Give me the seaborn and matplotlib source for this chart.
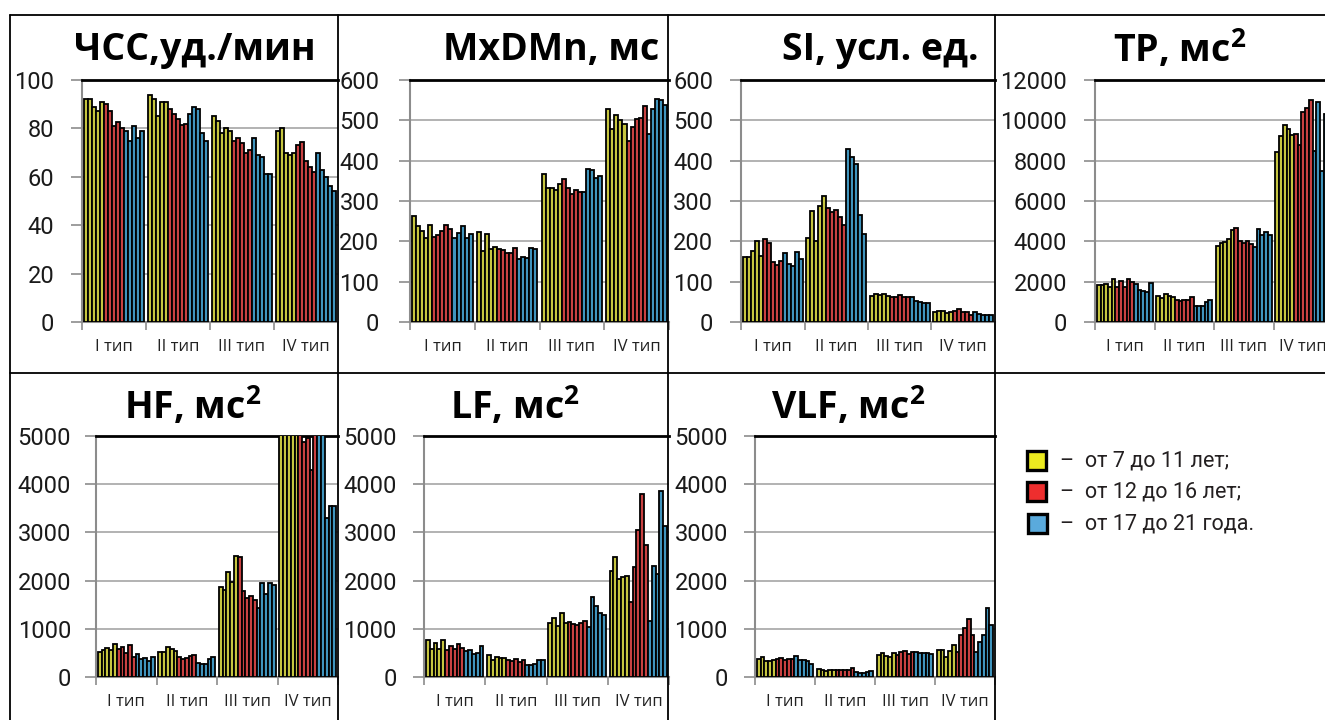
import numpy as np
import pandas as pd
import seaborn as sns
import matplotlib
matplotlib.use("Agg")
import matplotlib.pyplot as plt
from matplotlib.lines import Line2D
from matplotlib.patches import Rectangle

# ---- data: 4 types x 5 bars for each age band ----
type_labels = ["I тип", "II тип", "III тип", "IV тип"]
age_labels = ["–  от 7 до 11 лет;", "–  от 12 до 16 лет;", "–  от 17 до 21 года."]

hr_7_11 = [92, 92, 89, 87, 91, 94, 92, 85, 91, 91, 85, 83, 78, 80, 79, 79, 80, 70, 69, 70]
hr_12_16 = [90, 87, 81, 82.5, 80, 88, 86, 84, 81.5, 82, 75, 76, 74, 70, 71, 73, 74.5, 66.5, 64, 62]
hr_17_21 = [79, 75, 81, 76, 79, 86, 89, 88, 78, 75, 76, 69, 68, 61, 61, 70, 63, 60, 56, 54]

mxdmn_7_11 = [263, 238, 225, 208, 240, 222, 175, 217, 180, 186, 367, 333, 333, 327, 342, 528, 478, 513, 500, 490]
mxdmn_12_16 = [210, 215, 225, 240, 230, 180, 178, 170, 172, 183, 354, 333, 318, 328, 322, 448, 483, 503, 505, 535]
mxdmn_17_21 = [208, 220, 237, 208, 218, 155, 160, 158, 183, 182, 322, 380, 377, 358, 361, 465, 527, 553, 550, 538]

si_7_11 = [160, 160, 175, 200, 163, 208, 275, 200, 288, 312, 65, 70, 67, 70, 65, 25, 28, 27, 22, 25]
si_12_16 = [205, 197, 150, 142, 152, 283, 273, 278, 260, 240, 62, 63, 66, 62, 63, 28, 33, 25, 24, 17]
si_17_21 = [170, 145, 140, 173, 155, 430, 410, 392, 265, 218, 63, 52, 50, 48, 48, 25, 20, 18, 17, 18]

tp_7_11 = [1850, 1850, 1900, 1750, 2150, 1300, 1200, 1380, 1300, 1250, 3750, 3900, 3950, 4100, 4550, 8450, 9200, 9750, 9550, 9250]
tp_12_16 = [1750, 2050, 1750, 2150, 2000, 1100, 1050, 1100, 1100, 1220, 4650, 4000, 3900, 4000, 3850, 9300, 8800, 10400, 10600, 11000]
tp_17_21 = [1900, 1600, 1550, 1500, 1950, 780, 780, 780, 980, 1100, 3700, 4600, 4300, 4450, 4300, 8500, 10900, 7500, 10300, 9900]

hf_7_11 = [520, 560, 600, 560, 680, 510, 510, 620, 590, 530, 1870, 1800, 2170, 1970, 2520, 6200, 6800, 7100, 6500, 6900]
hf_12_16 = [580, 620, 500, 670, 420, 420, 370, 390, 440, 450, 2480, 1780, 1640, 1680, 1600, 5600, 4880, 4950, 4300, 5800]
hf_17_21 = [470, 380, 400, 330, 420, 290, 280, 270, 370, 420, 1430, 1940, 1720, 1960, 1910, 6000, 5400, 3300, 3550, 3550]

lf_7_11 = [760, 580, 710, 580, 770, 450, 360, 420, 390, 400, 1110, 1220, 1060, 1330, 1110, 2200, 2490, 2040, 2080, 2090]
lf_12_16 = [570, 650, 590, 690, 600, 350, 330, 380, 320, 360, 1150, 1100, 1070, 1130, 1170, 1550, 2290, 3040, 3800, 2740]
lf_17_21 = [530, 560, 480, 490, 640, 250, 240, 280, 360, 350, 1030, 1650, 1470, 1330, 1280, 1160, 2310, 2140, 3860, 3130]

vlf_7_11 = [380, 410, 330, 330, 350, 160, 140, 120, 140, 140, 460, 490, 440, 420, 490, 570, 550, 420, 530, 660]
vlf_12_16 = [380, 390, 360, 370, 370, 140, 140, 140, 140, 180, 460, 510, 530, 480, 510, 510, 880, 1010, 1200, 880]
vlf_17_21 = [440, 350, 350, 340, 280, 100, 90, 90, 110, 130, 510, 490, 500, 490, 480, 510, 720, 880, 1430, 1080]

bar_colors = ["#DCDB2A", "#E02A2A", "#2B9BD2"]
swatch_colors = ["#ECEB20", "#EE2E2E", "#5AAADC"]

W, H = 1325, 720
sns.set_theme(style="white")
plt.rcParams["font.family"] = ["Open Sans", "DejaVu Sans"]
plt.rcParams["mathtext.fontset"] = "custom"
plt.rcParams["mathtext.rm"] = "Open Sans"
plt.rcParams["mathtext.bf"] = "Open Sans:bold"

fig = plt.figure(figsize=(W / 100, H / 100), dpi=100)
fig.patch.set_facecolor("white")


def px_axes(left, top, right, bottom):
    return fig.add_axes([left / W, 1 - bottom / H, (right - left) / W, (bottom - top) / H])


def frame(young, teen, adult):
    rows = []
    for a, vals in enumerate((young, teen, adult)):
        for g in range(4):
            for k in range(5):
                rows.append({"pos": g * 16 + a * 5 + k, "value": vals[g * 5 + k], "age": age_labels[a]})
    return pd.DataFrame(rows)


panels = [
    # title, series, ymax, step, axes box (l, t, r, b), title centre, label gap
    ("ЧСС,уд./мин", (hr_7_11, hr_12_16, hr_17_21), 100, 20, (82, 80, 338, 322), (195, 50), 12),
    ("MxDMn, мс", (mxdmn_7_11, mxdmn_12_16, mxdmn_17_21), 600, 100, (410, 80, 669, 322), (551, 50), 14),
    ("SI, усл. ед.", (si_7_11, si_12_16, si_17_21), 600, 100, (741, 80, 995, 322), (880, 50), 12),
    ("TP, мс$^{\\mathbf{2}}$", (tp_7_11, tp_12_16, tp_17_21), 12000, 2000, (1095, 80, 1333, 322), (1180, 50), 12),
    ("HF, мс$^{\\mathbf{2}}$", (hf_7_11, hf_12_16, hf_17_21), 5000, 1000, (96, 436, 338, 677), (193, 406), 10),
    ("LF, мс$^{\\mathbf{2}}$", (lf_7_11, lf_12_16, lf_17_21), 5000, 1000, (424, 436, 669, 677), (515, 406), 11.5),
    ("VLF, мс$^{\\mathbf{2}}$", (vlf_7_11, vlf_12_16, vlf_17_21), 5000, 1000, (755, 436, 995, 677), (848, 406), 11.5),
]

for title, series, ymax, step, box, tpos, gap in panels:
    ax = px_axes(*box)
    df = frame(*series)
    sns.barplot(data=df, x="pos", y="value", hue="age", hue_order=age_labels,
                palette=bar_colors, native_scale=True, dodge=False, width=1.0,
                edgecolor="black", linewidth=1.3, errorbar=None, legend=False,
                ax=ax, zorder=3)
    ax.set_xlim(-1, 63)
    ax.set_ylim(0, ymax)
    ax.set_yticks(np.arange(0, ymax + 1, step))
    ax.yaxis.grid(True, color="#a6a6a6", linewidth=1.2, zorder=0)
    ax.xaxis.grid(False)
    ax.set_axisbelow(True)
    ax.set_xlabel("")
    ax.set_ylabel("")

    ax.set_xticks([-1, 15, 31, 47, 63])
    ax.set_xticklabels([])
    ax.set_xticks([7, 23, 39, 55], minor=True)
    ax.set_xticklabels(type_labels, minor=True, fontsize=12, color="#222222")
    ax.tick_params(axis="x", which="major", bottom=True, length=6, width=1.2,
                   color="#8c8c8c", direction="out")
    ax.tick_params(axis="x", which="minor", bottom=True, length=0, pad=12)
    ax.tick_params(axis="y", left=True, length=8, width=1.2, color="#8c8c8c",
                   direction="out", pad=gap, labelsize=17, labelcolor="#1a1a1a")
    for lab in ax.get_yticklabels():
        lab.set_fontfamily(["Roboto", "DejaVu Sans"])

    ax.spines["right"].set_visible(False)
    ax.spines["top"].set_color("black")
    ax.spines["top"].set_linewidth(2.0)
    for side in ("left", "bottom"):
        ax.spines[side].set_color("#8c8c8c")
        ax.spines[side].set_linewidth(1.5)
    ax.set_facecolor("white")

    fig.text(tpos[0] / W, 1 - tpos[1] / H, title, ha="center", va="center",
             fontsize=27, fontweight="bold", color="black")

# ---- panel borders ----
def fig_line(x0, y0, x1, y1):
    fig.add_artist(Line2D([x0 / W, x1 / W], [1 - y0 / H, 1 - y1 / H],
                          transform=fig.transFigure, color="black", linewidth=1.3))

for x in (10, 338, 668, 995):
    fig_line(x, 15, x, 720)
fig_line(10, 15, 1325, 15)
fig_line(10, 373, 1325, 373)

# ---- legend ----
legend_rows = [(1027, 451, 461), (1027, 482, 492), (1028, 514, 524)]
for (sx, sy, ty), color, label in zip(legend_rows, swatch_colors, age_labels):
    fig.add_artist(Rectangle((sx / W, 1 - (sy + 19) / H), 19 / W, 19 / H,
                             transform=fig.transFigure, facecolor=color,
                             edgecolor="black", linewidth=2.4))
    fig.text(1060 / W, 1 - ty / H, label, ha="left", va="center", fontsize=15.5,
             color="#231f20", family=["Roboto", "DejaVu Sans"])

fig.savefig("out.png", dpi=100, facecolor="white")
